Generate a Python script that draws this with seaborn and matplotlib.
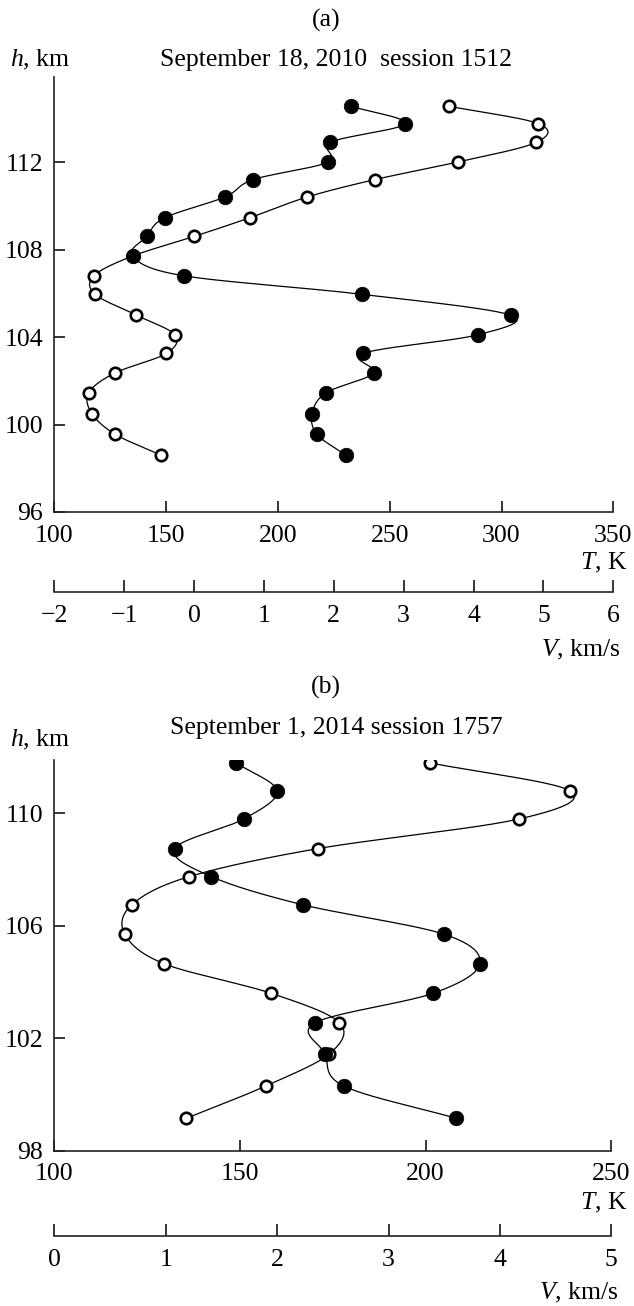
import numpy as np
import pandas as pd
import matplotlib
matplotlib.use("Agg")
import matplotlib.pyplot as plt
import seaborn as sns

# ---------------- data ----------------
# panel (a): September 18, 2010 session 1512
h_a = [98.6, 99.55, 100.5, 101.45, 102.35, 103.25, 104.1, 105.0, 105.95, 106.8,
       107.7, 108.6, 109.45, 110.4, 111.2, 112.0, 112.9, 113.75, 114.55]
T_a = [147.6, 127.3, 116.8, 115.4, 127.0, 150.1, 153.9, 136.7, 118.3, 117.7,
       135.0, 162.6, 187.4, 213.1, 243.5, 280.5, 315.6, 316.5, 276.4]
V_a = [2.17, 1.76, 1.69, 1.89, 2.57, 2.42, 4.06, 4.53, 2.41, -0.15,
       -0.88, -0.68, -0.42, 0.44, 0.85, 1.92, 1.95, 3.02, 2.24]

# panel (b): September 1, 2014 session 1757
h_b = [99.15, 100.3, 101.45, 102.55, 103.6, 104.65, 105.7, 106.75, 107.75,
       108.75, 109.8, 110.8, 111.8]
T_b = [135.5, 156.9, 174.1, 176.8, 158.4, 129.6, 119.0, 120.9, 136.3,
       171.1, 225.1, 238.9, 201.1]
V_b = [3.61, 2.60, 2.43, 2.34, 3.40, 3.82, 3.50, 2.23, 1.41,
       1.08, 1.70, 2.00, 1.63]

T_ticks_a = [100, 150, 200, 250, 300, 350]
V_ticks_a = [-2, -1, 0, 1, 2, 3, 4, 5, 6]
h_ticks_a = [96, 100, 104, 108, 112]
T_ticks_b = [100, 150, 200, 250]
V_ticks_b = [0, 1, 2, 3, 4, 5]
h_ticks_b = [98, 102, 106, 110]

title_a = "September 18, 2010  session 1512"
title_b = "September 1, 2014 session 1757"

# ---------------- style ----------------
sns.set_theme(style="white")
plt.rcParams["font.family"] = ["Liberation Serif", "DejaVu Serif"]
plt.rcParams["mathtext.fontset"] = "custom"
plt.rcParams["mathtext.rm"] = "Liberation Serif"
plt.rcParams["mathtext.it"] = "Liberation Serif:italic"
plt.rcParams["axes.unicode_minus"] = True
FS = 18.5

W, H = 634, 1306
fig = plt.figure(figsize=(W / 100, H / 100), dpi=100)


def smooth(x, y, n=24):
    """Uniform Catmull-Rom curve through the points (for the connecting line)."""
    P = np.column_stack([x, y]).astype(float)
    P = np.vstack([2 * P[0] - P[1], P, 2 * P[-1] - P[-2]])
    out = []
    t = np.linspace(0, 1, n, endpoint=False)[:, None]
    for i in range(1, len(P) - 2):
        p0, p1, p2, p3 = P[i - 1], P[i], P[i + 1], P[i + 2]
        seg = 0.5 * ((2 * p1) + (-p0 + p2) * t + (2 * p0 - 5 * p1 + 4 * p2 - p3) * t ** 2
                     + (-p0 + 3 * p1 - 3 * p2 + p3) * t ** 3)
        out.append(seg)
    out.append(P[-2][None, :])
    out = np.vstack(out)
    return out[:, 0], out[:, 1]


def panel(rect, h, T, V, tlim, vlim, hlim, tticks, vticks, hticks, v_off):
    ax = fig.add_axes(rect)
    ax2 = ax.twiny()
    for a in (ax, ax2):
        a.set_facecolor("none")
        for s in ("top", "right"):
            a.spines[s].set_visible(False)
    ax2.spines["left"].set_visible(False)
    ax.set_xlim(*tlim)
    ax.set_ylim(*hlim)
    ax2.set_xlim(*vlim)

    # open circles (T) on main axis
    cx, cy = smooth(T, h)
    sns.lineplot(x=cx, y=cy, ax=ax, sort=False, estimator=None, color="black", lw=0.9)
    sns.scatterplot(x=T, y=h, ax=ax, s=68, facecolor="white", edgecolor="black",
                    linewidth=1.9, zorder=5)
    # filled circles (V) on the secondary axis
    cx, cy = smooth(V, h)
    sns.lineplot(x=cx, y=cy, ax=ax2, sort=False, estimator=None, color="black", lw=0.9)
    sns.scatterplot(x=V, y=h, ax=ax2, s=110, color="black", edgecolor="black",
                    linewidth=0.5, zorder=6)

    for a in (ax, ax2):
        for s in a.spines.values():
            s.set_linewidth(1.2)
            s.set_color("#222222")
    ax.set_xticks(tticks)
    ax.set_yticks(hticks)
    ax.set_xticklabels([str(t) for t in tticks])
    ax.set_yticklabels([str(t) for t in hticks])
    ax.tick_params(axis="both", direction="in", length=8, width=1.1, labelsize=FS,
                   colors="black", bottom=True, left=True, pad=9)
    ax.tick_params(axis="y", pad=8)
    ax.set_xlabel("")
    ax.set_ylabel("")
    ax.set_ylim(*hlim)

    ax2.xaxis.set_ticks_position("bottom")
    ax2.xaxis.set_label_position("bottom")
    ax2.spines["bottom"].set_position(("outward", v_off))
    ax2.set_xticks(vticks)
    ax2.set_xticklabels([("\u2212%d" % -v) if v < 0 else str(v) for v in vticks])
    ax2.tick_params(axis="x", direction="in", length=9, width=1.1, labelsize=FS,
                    colors="black", bottom=True, top=False, pad=9)
    ax2.set_xlabel("")
    ax2.set_ylabel("")
    return ax, ax2


def fx(px):
    return px / W


def fy(py):
    return 1 - py / H


# panel (a) : axes from x 54.3..613.3, y 76.7..512
panel([fx(54.3), fy(512), fx(613.3 - 54.3), (512 - 76.7) / H],
      h_a, T_a, V_a, (100, 350), (-2, 6), (96, 115.9),
      T_ticks_a, V_ticks_a, h_ticks_a, 80 * 72 / 100)
# panel (b) : axes from x 54.3..611.3, y 760..1150.7
panel([fx(54.3), fy(1150.7), fx(611.3 - 54.3), (1150.7 - 760) / H],
      h_b, T_b, V_b, (100, 250), (0, 5), (98, 111.9),
      T_ticks_b, V_ticks_b, h_ticks_b, 85.3 * 72 / 100)

kw = dict(fontsize=FS, color="black")
fig.text(fx(326), fy(20), "(a)", ha="center", va="center", **kw)
fig.text(fx(336), fy(60), title_a, ha="center", va="center", **kw)
fig.text(fx(10), fy(60), "$h$, km", ha="left", va="center", **kw)
fig.text(fx(627), fy(563), "$T$, K", ha="right", va="center", **kw)
fig.text(fx(621), fy(650), "$V$, km/s", ha="right", va="center", **kw)

fig.text(fx(326), fy(687), "(b)", ha="center", va="center", **kw)
fig.text(fx(336), fy(728), title_b, ha="center", va="center", **kw)
fig.text(fx(10), fy(740), "$h$, km", ha="left", va="center", **kw)
fig.text(fx(627), fy(1203), "$T$, K", ha="right", va="center", **kw)
fig.text(fx(619), fy(1293), "$V$, km/s", ha="right", va="center", **kw)

fig.savefig("out.png", dpi=100, facecolor="white")
